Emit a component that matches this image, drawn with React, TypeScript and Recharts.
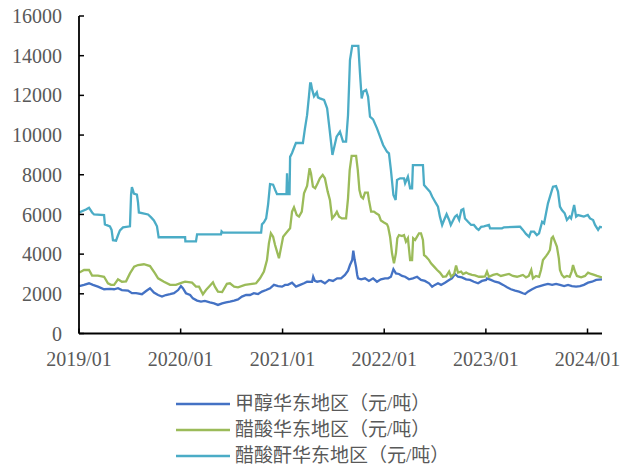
import React from "react";
import { LineChart, Line, XAxis, YAxis, Legend } from "recharts";

// Daily spot prices in East China (yuan / tonne), key observations per series.
const methanol: [string, number][] = [
  ["2019-01-02", 2390], ["2019-01-19", 2450], ["2019-02-06", 2530], ["2019-02-20", 2450],
  ["2019-03-10", 2360], ["2019-04-01", 2230], ["2019-04-22", 2250], ["2019-05-07", 2230],
  ["2019-05-21", 2280], ["2019-06-04", 2190], ["2019-06-26", 2160], ["2019-07-10", 2030],
  ["2019-07-25", 2030], ["2019-08-15", 1980], ["2019-08-30", 2140], ["2019-09-13", 2280],
  ["2019-09-27", 2060], ["2019-10-12", 1940], ["2019-10-26", 1860], ["2019-11-09", 1940],
  ["2019-11-24", 1980], ["2019-12-08", 2030], ["2019-12-23", 2190], ["2020-01-02", 2390],
  ["2020-01-09", 2280], ["2020-01-20", 2030], ["2020-02-04", 1940], ["2020-02-14", 1770],
  ["2020-02-29", 1660], ["2020-03-14", 1610], ["2020-03-28", 1640], ["2020-04-15", 1570],
  ["2020-04-30", 1520], ["2020-05-14", 1440], ["2020-05-29", 1520], ["2020-06-12", 1570],
  ["2020-06-26", 1610], ["2020-07-11", 1660], ["2020-07-25", 1720], ["2020-08-08", 1860],
  ["2020-08-23", 1940], ["2020-09-06", 1940], ["2020-09-20", 2030], ["2020-10-05", 1990],
  ["2020-10-19", 2110], ["2020-11-03", 2190], ["2020-11-17", 2280], ["2020-12-01", 2450],
  ["2020-12-16", 2390], ["2020-12-30", 2360], ["2021-01-10", 2450], ["2021-01-20", 2450],
  ["2021-02-04", 2560], ["2021-02-18", 2360], ["2021-03-05", 2450], ["2021-03-19", 2530],
  ["2021-03-30", 2610], ["2021-04-17", 2600], ["2021-04-21", 2860], ["2021-04-27", 2650],
  ["2021-05-05", 2610], ["2021-05-19", 2650], ["2021-06-02", 2530], ["2021-06-17", 2700],
  ["2021-07-01", 2650], ["2021-07-16", 2780], ["2021-07-30", 2780], ["2021-08-13", 2950],
  ["2021-08-24", 3170], ["2021-08-31", 3450], ["2021-09-08", 3700], ["2021-09-12", 4180],
  ["2021-09-17", 3700], ["2021-09-22", 3340], ["2021-09-26", 2950], ["2021-09-29", 2780],
  ["2021-10-10", 2730], ["2021-10-24", 2780], ["2021-11-07", 2650], ["2021-11-22", 2780],
  ["2021-12-06", 2610], ["2021-12-20", 2730], ["2022-01-04", 2780], ["2022-01-15", 2780],
  ["2022-01-25", 2860], ["2022-02-03", 3240], ["2022-02-12", 3030], ["2022-02-23", 3000],
  ["2022-03-06", 2900], ["2022-03-17", 2860], ["2022-03-31", 2730], ["2022-04-14", 2780],
  ["2022-04-29", 2860], ["2022-05-13", 2700], ["2022-05-27", 2650], ["2022-06-11", 2530],
  ["2022-06-22", 2360], ["2022-07-02", 2450], ["2022-07-13", 2530], ["2022-07-24", 2450],
  ["2022-08-07", 2560], ["2022-08-22", 2700], ["2022-09-01", 2780], ["2022-09-12", 3000],
  ["2022-09-23", 2860], ["2022-10-07", 2830], ["2022-10-22", 2730], ["2022-11-05", 2700],
  ["2022-11-19", 2610], ["2022-12-04", 2530], ["2022-12-18", 2650], ["2023-01-02", 2700],
  ["2023-01-05", 2780], ["2023-01-19", 2700], ["2023-02-03", 2610], ["2023-02-17", 2560],
  ["2023-03-04", 2450], ["2023-03-18", 2330], ["2023-04-01", 2230], ["2023-04-16", 2160],
  ["2023-04-30", 2110], ["2023-05-14", 2030], ["2023-05-22", 1990], ["2023-06-01", 2110],
  ["2023-06-16", 2230], ["2023-06-30", 2330], ["2023-07-14", 2390], ["2023-07-29", 2450],
  ["2023-08-12", 2500], ["2023-08-27", 2450], ["2023-09-10", 2500], ["2023-09-24", 2450],
  ["2023-10-09", 2390], ["2023-10-23", 2450], ["2023-11-06", 2390], ["2023-11-21", 2360],
  ["2023-12-05", 2390], ["2023-12-19", 2450], ["2024-01-03", 2560], ["2024-01-17", 2610],
  ["2024-02-01", 2700], ["2024-02-22", 2730],
];

const aceticAcid: [string, number][] = [
  ["2019-01-02", 3070], ["2019-01-19", 3200], ["2019-02-06", 3200], ["2019-02-17", 2920],
  ["2019-03-10", 2920], ["2019-04-01", 2860], ["2019-04-15", 2530], ["2019-04-26", 2450],
  ["2019-05-07", 2450], ["2019-05-21", 2730], ["2019-06-04", 2610], ["2019-06-19", 2630],
  ["2019-07-03", 3030], ["2019-07-18", 3370], ["2019-08-01", 3450], ["2019-08-22", 3490],
  ["2019-09-13", 3400], ["2019-10-01", 3030], ["2019-10-12", 2780], ["2019-11-02", 2610],
  ["2019-11-24", 2450], ["2019-12-15", 2450], ["2020-01-06", 2560], ["2020-01-17", 2610],
  ["2020-02-11", 2560], ["2020-02-25", 2360], ["2020-03-07", 2360], ["2020-03-21", 1980],
  ["2020-04-01", 2190], ["2020-04-15", 2410], ["2020-04-26", 2580], ["2020-05-03", 2360],
  ["2020-05-14", 2110], ["2020-05-29", 2090], ["2020-06-15", 2500], ["2020-06-26", 2530],
  ["2020-07-11", 2360], ["2020-07-25", 2330], ["2020-08-19", 2450], ["2020-09-13", 2500],
  ["2020-09-28", 2530], ["2020-10-12", 2780], ["2020-10-26", 3120], ["2020-11-06", 3700],
  ["2020-11-13", 4550], ["2020-11-20", 5050], ["2020-11-28", 4880], ["2020-12-05", 4460],
  ["2020-12-15", 3990], ["2020-12-19", 3790], ["2020-12-26", 4290], ["2021-01-03", 4880],
  ["2021-01-13", 5050], ["2021-01-28", 5300], ["2021-02-04", 6140], ["2021-02-11", 6360],
  ["2021-02-21", 5970], ["2021-03-01", 5890], ["2021-03-11", 6140], ["2021-03-19", 7070],
  ["2021-03-30", 7430], ["2021-04-08", 8330], ["2021-04-13", 8070], ["2021-04-20", 7400],
  ["2021-04-28", 7320], ["2021-05-07", 7570], ["2021-05-15", 7820], ["2021-05-25", 7990],
  ["2021-06-02", 7820], ["2021-06-12", 7150], ["2021-06-20", 6730], ["2021-06-28", 5800],
  ["2021-07-08", 5970], ["2021-07-15", 6140], ["2021-07-23", 5890], ["2021-08-02", 5800],
  ["2021-08-17", 5800], ["2021-08-24", 6810], ["2021-08-30", 8240], ["2021-09-06", 8950],
  ["2021-09-22", 8950], ["2021-09-28", 8240], ["2021-10-04", 7230], ["2021-10-10", 6900],
  ["2021-10-17", 6810], ["2021-10-24", 7100], ["2021-11-03", 7100], ["2021-11-07", 6730],
  ["2021-11-15", 6140], ["2021-11-25", 6140], ["2021-12-03", 6060], ["2021-12-13", 5970],
  ["2021-12-20", 5690], ["2021-12-31", 5590], ["2022-01-11", 5500], ["2022-01-15", 5380],
  ["2022-01-22", 4880], ["2022-01-29", 4040], ["2022-02-05", 3540], ["2022-02-12", 4040],
  ["2022-02-17", 4800], ["2022-02-23", 4960], ["2022-03-06", 4910], ["2022-03-13", 4960],
  ["2022-03-20", 4630], ["2022-03-27", 4800], ["2022-04-04", 3700], ["2022-04-11", 3700],
  ["2022-04-15", 4800], ["2022-04-22", 4710], ["2022-04-29", 4880], ["2022-05-06", 5050],
  ["2022-05-13", 5050], ["2022-05-20", 4710], ["2022-05-24", 3950], ["2022-05-31", 3870],
  ["2022-06-11", 3700], ["2022-06-18", 3540], ["2022-06-29", 3370], ["2022-07-10", 3200],
  ["2022-07-20", 3070], ["2022-07-31", 2860], ["2022-08-11", 2880], ["2022-08-22", 3120],
  ["2022-08-29", 2860], ["2022-09-09", 3000], ["2022-09-16", 3420], ["2022-09-23", 3070],
  ["2022-10-04", 3120], ["2022-10-11", 3000], ["2022-10-22", 3070], ["2022-11-01", 3000],
  ["2022-11-12", 2950], ["2022-11-23", 2930], ["2022-12-07", 2860], ["2022-12-18", 2860],
  ["2022-12-29", 2880], ["2023-01-05", 3120], ["2023-01-12", 2860], ["2023-01-27", 2950],
  ["2023-02-10", 3000], ["2023-02-24", 2900], ["2023-03-11", 2950], ["2023-03-25", 3000],
  ["2023-04-08", 2900], ["2023-04-23", 2860], ["2023-05-04", 2900], ["2023-05-14", 2950],
  ["2023-05-25", 2830], ["2023-06-04", 2900], ["2023-06-13", 3200], ["2023-06-19", 2780],
  ["2023-06-30", 2900], ["2023-07-11", 2860], ["2023-07-18", 3200], ["2023-07-25", 3700],
  ["2023-08-05", 3900], ["2023-08-12", 4040], ["2023-08-19", 4210], ["2023-08-25", 4800],
  ["2023-08-30", 4880], ["2023-09-06", 4630], ["2023-09-13", 4380], ["2023-09-20", 3790],
  ["2023-09-24", 3200], ["2023-10-01", 2950], ["2023-10-09", 2830], ["2023-10-19", 2900],
  ["2023-10-29", 2860], ["2023-11-05", 3120], ["2023-11-10", 3450], ["2023-11-17", 3120],
  ["2023-11-24", 2900], ["2023-12-09", 2830], ["2023-12-23", 2900], ["2024-01-03", 3070],
  ["2024-01-14", 3000], ["2024-01-25", 2950], ["2024-02-04", 2900], ["2024-02-22", 2830],
];

const aceticAnhydride: [string, number][] = [
  ["2019-01-02", 6100], ["2019-01-26", 6250], ["2019-02-06", 6340], ["2019-02-17", 6100],
  ["2019-02-24", 6000], ["2019-04-01", 5970], ["2019-04-04", 5500], ["2019-04-22", 5400],
  ["2019-04-28", 5220], ["2019-05-03", 4700], ["2019-05-14", 4680], ["2019-05-21", 4950],
  ["2019-05-28", 5200], ["2019-06-08", 5350], ["2019-07-03", 5400], ["2019-07-07", 7000],
  ["2019-07-10", 7380], ["2019-07-14", 7200], ["2019-07-17", 7050], ["2019-07-28", 7000],
  ["2019-08-01", 6600], ["2019-08-04", 6100], ["2019-09-06", 6000], ["2019-09-17", 5850],
  ["2019-09-27", 5700], ["2019-10-08", 5400], ["2019-10-14", 4850], ["2020-01-17", 4850],
  ["2020-01-18", 4640], ["2020-02-25", 4640], ["2020-02-29", 5000], ["2020-05-25", 5000],
  ["2020-05-27", 5150], ["2020-06-01", 5080], ["2020-10-16", 5080], ["2020-10-19", 5500],
  ["2020-10-26", 5600], ["2020-11-03", 5800], ["2020-11-10", 6500], ["2020-11-17", 7530],
  ["2020-11-28", 7500], ["2020-12-05", 7250], ["2020-12-12", 7020], ["2021-01-15", 7020],
  ["2021-01-17", 8070], ["2021-01-20", 7020], ["2021-01-26", 7020], ["2021-01-28", 8900],
  ["2021-02-04", 9100], ["2021-02-15", 9500], ["2021-02-18", 9600], ["2021-03-15", 9600],
  ["2021-03-22", 10300], ["2021-03-30", 11000], ["2021-04-06", 12000], ["2021-04-10", 12600],
  ["2021-04-13", 12600], ["2021-04-17", 12300], ["2021-04-24", 11950], ["2021-05-04", 12150],
  ["2021-05-08", 11900], ["2021-05-15", 11850], ["2021-05-30", 11770], ["2021-06-10", 11350],
  ["2021-06-19", 10260], ["2021-06-29", 9000], ["2021-07-14", 9920], ["2021-07-26", 10170],
  ["2021-08-06", 9670], ["2021-08-17", 9670], ["2021-08-24", 11000], ["2021-08-31", 13780],
  ["2021-09-08", 14490], ["2021-09-30", 14490], ["2021-10-06", 13110], ["2021-10-12", 11850],
  ["2021-10-18", 12190], ["2021-10-28", 12270], ["2021-11-04", 11940], ["2021-11-11", 10930],
  ["2021-11-22", 10790], ["2021-12-06", 10340], ["2021-12-17", 9920], ["2021-12-28", 9500],
  ["2022-01-11", 9160], ["2022-01-18", 9080], ["2022-01-25", 8240], ["2022-02-03", 6980],
  ["2022-02-11", 6730], ["2022-02-16", 7740], ["2022-02-27", 7820], ["2022-03-13", 7820],
  ["2022-03-17", 7570], ["2022-03-27", 7900], ["2022-04-04", 7320], ["2022-04-11", 7320],
  ["2022-04-14", 8490], ["2022-05-20", 8490], ["2022-05-24", 7480], ["2022-06-03", 7320],
  ["2022-06-14", 7150], ["2022-06-22", 6900], ["2022-06-29", 6730], ["2022-07-06", 6560],
  ["2022-07-13", 6390], ["2022-07-20", 5890], ["2022-07-28", 5470], ["2022-08-04", 5720],
  ["2022-08-13", 6010], ["2022-08-22", 5720], ["2022-08-28", 5470], ["2022-09-06", 5720],
  ["2022-09-12", 5890], ["2022-09-19", 5970], ["2022-09-27", 5720], ["2022-10-05", 6220],
  ["2022-10-12", 6270], ["2022-10-18", 5800], ["2022-10-29", 5630], ["2022-11-09", 5470],
  ["2022-11-19", 5470], ["2022-11-29", 5300], ["2022-12-06", 5220], ["2022-12-15", 5380],
  ["2022-12-25", 5400], ["2023-01-12", 5470], ["2023-01-16", 5300], ["2023-02-28", 5300],
  ["2023-03-07", 5350], ["2023-04-30", 5380], ["2023-05-04", 5380], ["2023-05-14", 5220],
  ["2023-05-25", 5020], ["2023-06-05", 4880], ["2023-06-12", 5130], ["2023-06-23", 5130],
  ["2023-07-03", 4960], ["2023-07-11", 5050], ["2023-07-22", 5630], ["2023-07-29", 5550],
  ["2023-08-05", 6060], ["2023-08-12", 6560], ["2023-08-23", 7070], ["2023-08-30", 7400],
  ["2023-09-10", 7430], ["2023-09-17", 7150], ["2023-09-24", 6390], ["2023-10-01", 6220],
  ["2023-10-11", 6060], ["2023-10-19", 5720], ["2023-10-29", 5890], ["2023-11-03", 5800],
  ["2023-11-14", 6480], ["2023-11-21", 5890], ["2023-11-28", 5970], ["2023-12-19", 5890],
  ["2024-01-02", 5970], ["2024-01-10", 5800], ["2024-01-21", 5720], ["2024-01-28", 5470],
  ["2024-02-08", 5220], ["2024-02-15", 5380], ["2024-02-22", 5350],
];

const seriesNames = ["甲醇华东地区（元/吨）", "醋酸华东地区（元/吨）", "醋酸酐华东地区（元/吨）"];
const seriesColors = ["#4472C4", "#9BBB59", "#4BACC6"];
const xTickLabels = ["2019/01", "2020/01", "2021/01", "2022/01", "2023/01", "2024/01"];
const yTicks = [0, 2000, 4000, 6000, 8000, 10000, 12000, 14000, 16000];
const lastDate = "2024-02-22";

const toTime = (d: string) => {
  const [y, m, day] = d.split("-").map(Number);
  return Date.UTC(y, m - 1, day);
};
const toRows = (pts: [string, number][]) => pts.map(([d, v]) => ({ t: toTime(d), v }));

const xTicks = xTickLabels.map((l) => {
  const [y, m] = l.split("/").map(Number);
  return Date.UTC(y, m - 1, 1);
});
const tickLabelOf = (t: number) => xTickLabels[xTicks.indexOf(t)] ?? "";

const seriesData = [toRows(methanol), toRows(aceticAcid), toRows(aceticAnhydride)];

const axisFont = "'Times New Roman', 'Liberation Serif', serif";
const legendFont = "'Times New Roman', 'Liberation Serif', 'Noto Sans CJK SC', serif";

const LegendBox = () => (
  <div style={{ position: "relative", width: 622, height: 90 }}>
    {seriesNames.map((name, i) => (
      <div
        key={name}
        style={{
          position: "absolute",
          left: 176,
          top: 27 + i * 26.3,
          height: 26,
          display: "flex",
          alignItems: "center",
          whiteSpace: "nowrap",
        }}
      >
        <svg width={54} height={6} style={{ display: "block" }}>
          <line x1={0} y1={3} x2={54} y2={3} stroke={seriesColors[i]} strokeWidth={2.5} />
        </svg>
        <span
          style={{
            marginLeft: 5,
            fontSize: 19,
            lineHeight: "26px",
            color: "#595959",
            fontFamily: legendFont,
          }}
        >
          {name}
        </span>
      </div>
    ))}
  </div>
);

export default function App() {
  return (
    <div style={{ position: "absolute", left: 0, top: 0, width: 622, height: 471, background: "#fff" }}>
      <LineChart width={622} height={471} margin={{ top: 16, right: 20, left: 0, bottom: 17.5 }}>
        <XAxis
          dataKey="t"
          type="number"
          domain={[xTicks[0], toTime(lastDate)]}
          ticks={xTicks}
          interval={0}
          tickFormatter={tickLabelOf}
          height={30}
          tickSize={-5}
          tickMargin={23.5}
          axisLine={{ stroke: "#000", strokeWidth: 1.8 }}
          tickLine={{ stroke: "#000", strokeWidth: 1.5 }}
          tick={{ fill: "#595959", fontSize: 20, fontFamily: axisFont }}
          allowDataOverflow
        />
        <YAxis
          type="number"
          domain={[0, 16000]}
          ticks={yTicks}
          interval={0}
          width={79}
          tickSize={-5}
          tickMargin={22}
          axisLine={{ stroke: "#000", strokeWidth: 1.8 }}
          tickLine={{ stroke: "#000", strokeWidth: 1.5 }}
          tick={{ fill: "#595959", fontSize: 20, fontFamily: axisFont }}
        />
        <Legend
          verticalAlign="bottom"
          align="left"
          content={() => <LegendBox />}
          wrapperStyle={{ left: 0, width: 622 }}
        />
        {seriesData.map((rows, i) => (
          <Line
            key={seriesNames[i]}
            data={rows}
            dataKey="v"
            name={seriesNames[i]}
            type="linear"
            stroke={seriesColors[i]}
            strokeWidth={2.3}
            dot={false}
            activeDot={false}
            isAnimationActive={false}
          />
        ))}
      </LineChart>
    </div>
  );
}
